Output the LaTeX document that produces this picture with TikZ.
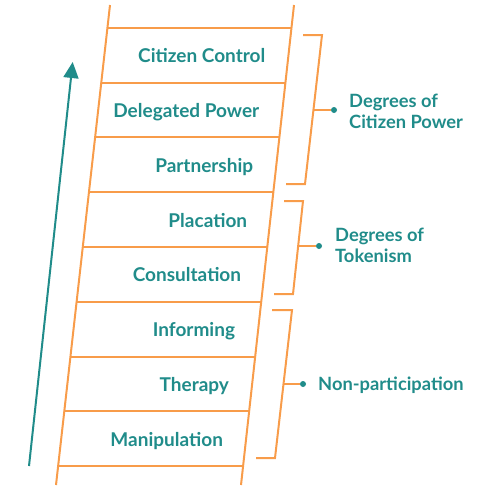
\documentclass[tikz,border=0pt]{standalone}
\usepackage{fontspec}
\setmainfont{Lato}
\usetikzlibrary{arrows.meta,calc}
\definecolor{ladderorange}{HTML}{F89C4A}
\definecolor{tealtext}{HTML}{208C8A}
\tikzset{
  rail/.style={draw=ladderorange,line width=2pt},
  rung/.style={draw=ladderorange,line width=2pt},
  bracketline/.style={draw=ladderorange,line width=2pt},
  steplabel/.style={text=tealtext,font=\bfseries\fontsize{19}{22}\selectfont,inner sep=0pt,anchor=base east},
  grouplabel/.style={text=tealtext,font=\bfseries\fontsize{18.3}{21.3}\selectfont,inner sep=0pt,anchor=west,align=left},
  gdot/.style={circle,fill=tealtext,inner sep=0pt,minimum size=6pt},
}
\begin{document}
\begin{tikzpicture}[x=1pt,y=-1pt]
\useasboundingbox (0,0) rectangle (477,498);
% rails
\coordinate (lt) at (110,5);
\coordinate (lb) at (56,485);
\coordinate (rt) at (294,5);
\coordinate (rb) at (241,485);
\draw[rail] (lt) -- (lb);
\draw[rail] (rt) -- (rb);
% rungs
\foreach \k in {0,...,8}{
  \pgfmathsetmacro{\yy}{28+54.75*\k}
  \pgfmathsetmacro{\tt}{(\yy-5)/480}
  \coordinate (rl\k) at ($(lt)!\tt!(lb)$);
  \coordinate (rr\k) at ($(rt)!\tt!(rb)$);
  \draw[rung] (rl\k) -- (rr\k);
}
% step labels
\foreach \k/\txt in {0/Citizen Control,1/Delegated Power,2/Partnership,3/Placation,4/Consultation,5/Informing,6/Therapy,7/Manipulation}{
  \pgfmathsetmacro{\yy}{28+54.75*\k+27.4+7.5}
  \pgfmathsetmacro{\tt}{(28+54.75*\k+27.4-5)/480}
  \coordinate (rm\k) at ($(rt)!\tt!(rb)$);
  \path let \p1=(rm\k) in node[steplabel] (s\k) at (\x1-23pt,\yy) {\txt};
}
% arrow
\coordinate (a0) at (29,466);
\coordinate (a1) at (72.7,62);
\draw[draw=tealtext,line width=2pt,-{Triangle[length=16pt,width=15pt]}] (a0) -- (a1);
% brackets
\coordinate (b1a) at (303,35); \coordinate (b1b) at (322,35);
\coordinate (b1c) at (305,184); \coordinate (b1d) at (286,184);
\coordinate (b1m) at (313.4,110);
\draw[bracketline] (b1a) -- (b1b) -- (b1c) -- (b1d);
\node[gdot] (d1) at (334,110) {};
\draw[bracketline] (b1m) -- (d1);
\node[grouplabel] (g1) at (349,111) {Degrees of\\Citizen Power};

\coordinate (b2a) at (284,201); \coordinate (b2b) at (303,201);
\coordinate (b2c) at (293,294); \coordinate (b2d) at (274,294);
\coordinate (b2m) at (298,246);
\draw[bracketline] (b2a) -- (b2b) -- (b2c) -- (b2d);
\node[gdot] (d2) at (319,246) {};
\draw[bracketline] (b2m) -- (d2);
\node[grouplabel] (g2) at (335,245) {Degrees of\\Tokenism};

\coordinate (b3a) at (272,310); \coordinate (b3b) at (292,310);
\coordinate (b3c) at (275,458); \coordinate (b3d) at (256,458);
\coordinate (b3m) at (283.5,384);
\draw[bracketline] (b3a) -- (b3b) -- (b3c) -- (b3d);
\node[gdot] (d3) at (303,384) {};
\draw[bracketline] (b3m) -- (d3);
\node[grouplabel] (g3) at (318,385) {Non-participation};
\end{tikzpicture}
\end{document}
